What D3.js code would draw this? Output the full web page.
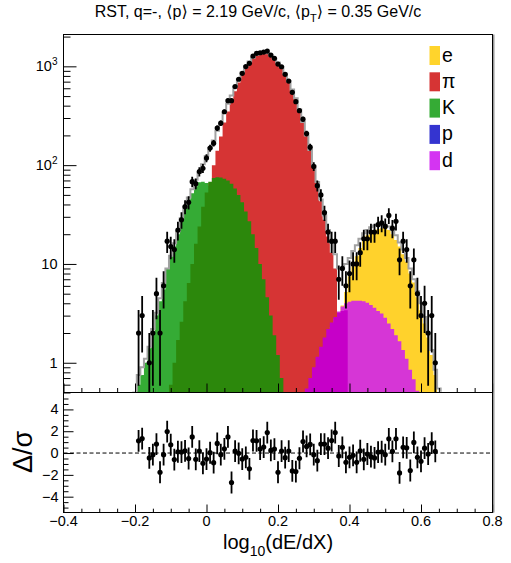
<!DOCTYPE html>
<html><head><meta charset="utf-8">
<script src="https://cdn.jsdelivr.net/npm/d3@7"></script>
<style>
body{margin:0;background:#fff}
svg{display:block}
text{font-family:"Liberation Sans",Arial,"DejaVu Sans",sans-serif;fill:#000}
</style>
</head><body>
<svg id="c" width="511" height="563"></svg>
<script>
// ---------------- data ----------------
const binCenters = [-0.20,-0.19,-0.18,-0.17,-0.16,-0.15,-0.14,-0.13,-0.12,-0.11,
 -0.10,-0.09,-0.08,-0.07,-0.06,-0.05,-0.04,-0.03,-0.02,-0.01,
 0.00,0.01,0.02,0.03,0.04,0.05,0.06,0.07,0.08,0.09,
 0.10,0.11,0.12,0.13,0.14,0.15,0.16,0.17,0.18,0.19,
 0.20,0.21,0.22,0.23,0.24,0.25,0.26,0.27,0.28,0.29,
 0.30,0.31,0.32,0.33,0.34,0.35,0.36,0.37,0.38,0.39,
 0.40,0.41,0.42,0.43,0.44,0.45,0.46,0.47,0.48,0.49,
 0.50,0.51,0.52,0.53,0.54,0.55,0.56,0.57,0.58,0.59,
 0.60,0.61,0.62,0.63,0.64,0.65];

const piCounts = [0,0,0,0,0,0,0,0,0,0,
 0.1,0.2,0.5,1.0,1.8,3.3,5.7,9.7,16,26,
 42,66,100,140,195,270,350,445,560,685,
 815,950,1080,1195,1285,1345,1368,1352,1290,1195,
 1090,985,840,705,585,470,362,272,198,140,
 96,66,43,28,19,13,9,0,0,0,
 0,0,0,0,0,0,0,0,0,0,
 0,0,0,0,0,0,0,0,0,0,
 0,0,0,0,0,0];

const kaonCountsA = [0.4,0.6,0.75,1.0,1.4,2.0,3.0,4.2,5.5,9,
 12,15,20,28,36,45,52,61,67,68,
 66,62,56,49,41,33,26,19,13,9,
 6,3.8,2.3,1.3,0.7,0.4,0.2,0,0,0,
 0,0,0,0,0,0,0,0,0,0,
 0,0,0,0,0,0,0,0,0,0,
 0,0,0,0,0,0,0,0,0,0,
 0,0,0,0,0,0,0,0,0,0,
 0,0,0,0,0,0];

const kaonCountsB = [0,0,0,0,0,0,0,0,0.1,0.3,
 0.6,1.0,1.7,2.6,4.2,6.4,10,16,24,38,
 53,68,74,75.5,75,73,70,65,58,50,
 42,34,27,20,14.5,10,7,4.6,3.0,1.9,
 1.2,0.7,0.4,0.2,0,0,0,0,0,0,
 0,0,0,0,0,0,0,0,0,0,
 0,0,0,0,0,0,0,0,0,0,
 0,0,0,0,0,0,0,0,0,0,
 0,0,0,0,0,0];

const electronCounts = [0,0,0,0,0,0,0,0,0,0,
 0,0,0,0,0,0,0,0,0,0,
 0,0,0,0,0,0,0,0,0,0,
 0,0,0,0,0,0,0,0,0,0,
 0,0,0,0,0,0,0,0,0,0,
 0.2,0.3,0.4,0.6,0.9,1.4,2.0,2.8,3.8,5.2,
 7.5,9.5,12,14.5,17.5,19.5,21,22,22.5,23,
 23,22,20,17.5,15,12.5,10.5,8,6.5,4.6,
 3.4,2.5,1.8,1.2,0.75,0.4];

const protonCounts = [0,0,0,0,0,0,0,0,0,0,
 0,0,0,0,0,0,0,0,0,0,
 0,0,0,0,0,0,0,0,0,0,
 0,0,0,0,0,0,0,0,0,0,
 0,0,0,0,0,0,0,0,0,0,
 0,0,0,0,0,0,0,0,0,0,
 0,0,0,0,0,0,0,0,0,0,
 0,0,0,0,0,0,0,0,0,0,
 0,0,0,0,0,0];

const deuteronCountsA = [0,0,0,0,0,0,0,0,0,0,
 0,0,0,0,0,0,0,0,0,0,
 0,0,0,0,0,0,0,0,0,0,
 0,0,0,0,0,0,0,0,0,0,
 0,0,0,0,0,0,0,0,0,0,
 0.4,0.55,0.8,1.2,1.7,2.3,2.8,3.3,3.7,4.0,
 4.15,4.25,4.25,4.25,4.2,4.05,3.85,3.6,3.35,3.15,
 2.85,2.5,2.2,1.9,1.65,1.35,1.1,0.85,0.68,0.52,
 0.4,0.3,0.2,0.1,0,0];

const deuteronCountsB = [0,0,0,0,0,0,0,0,0,0,
 0,0,0,0,0,0,0,0,0,0,
 0,0,0,0,0,0,0,0,0,0,
 0,0,0,0,0,0,0,0,0,0,
 0,0,0,0,0,0,0,0.45,0.55,0.7,
 0.9,1.15,1.45,1.8,2.2,2.55,2.9,3.2,3.35,3.4,
 0,0,0,0,0,0,0,0,0,0,
 0,0,0,0,0,0,0,0,0,0,
 0,0,0,0,0,0];

const fitTotal = [0.45,0.75,0.9,1.1,1.45,2.2,3.2,4.5,6.4,9,
 12.1,16.2,21.4,29,38,47,57,71,84,102,
 124,149,178,223,268,340,418,506,620,741,
 866,1002,1119,1229,1312,1359,1374,1357,1291,1192,
 1095,984,842,705,584,475,365,274,200,142,
 98.5,67.5,45,31,22,16.5,12.5,9,9,10,
 11.5,13.5,15.5,18,20.5,22,23.5,24.5,25,25.3,
 25,24,22,19.5,16.5,14,11.5,9,7,5.3,
 4,2.9,2.0,1.35,0.85,0.55];

const dataX = [-0.19,-0.18,-0.16,-0.15,-0.14,-0.13,-0.12,-0.11,-0.10,-0.09,
 -0.08,-0.07,-0.06,-0.05,-0.04,-0.03,-0.02,-0.01,0.00,0.01,
 0.02,0.03,0.04,0.05,0.06,0.07,0.08,0.09,0.10,0.11,
 0.12,0.13,0.14,0.15,0.16,0.17,0.18,0.19,0.20,0.21,
 0.22,0.23,0.24,0.25,0.26,0.27,0.28,0.29,0.30,0.31,
 0.32,0.33,0.34,0.35,0.36,0.37,0.38,0.39,0.40,0.41,
 0.42,0.43,0.44,0.45,0.46,0.47,0.48,0.49,0.50,0.51,
 0.52,0.53,0.54,0.55,0.56,0.57,0.58,0.59,0.60,0.61,
 0.62,0.63,0.64];

const dataCounts = [2,3,1,2,5,2,6,17,15,14,
 22,28,38,42,68,65,86,93,118,149,
 167,237,266,347,449,449,624,740,850,995,
 1072,1270,1353,1372,1395,1428,1300,1205,1055,990,
 830,710,546,439,356,292,209,152,97,62,
 50,33,21,17,17,7,9,6,8,10,
 10,13,18,18,21,21,25,26,24,31,
 23,27,11,17,14,6,11,5,3,4,
 2,3,1];

const residuals = [1.12,1.33,-0.45,-0.15,0.82,-1.76,-0.15,1.97,0.76,-0.6,
 0.12,0.09,0.2,-0.5,1.48,-0.58,0.18,-0.94,-0.55,0.03,
 -0.88,0.88,-0.15,0.39,1.48,-2.7,0.18,-0.03,-0.55,-0.39,
 -1.45,1.15,1.12,0.36,0.55,1.88,0.24,0.36,-1.76,0.18,
 -0.42,0.18,-1.64,-1.7,-0.48,1.06,0.61,0.79,-0.15,-0.7,
 0.82,0.82,0.45,1.15,1.88,-0.27,0.52,-0.85,-0.39,-0.21,
 -0.85,0.21,-0.58,-0.09,-0.33,-0.45,0.09,0.12,-0.15,1.3,
 0.15,1.3,-1.82,0.52,0.48,-1.6,0.97,-0.39,-0.76,0.45,
 -0.09,0.91,0.15];

const legendLabels = ["e","π","K","p","d"];
const xTickValues = [-0.4,-0.2,0,0.2,0.4,0.6,0.8];
const xTickLabels = ["−0.4","−0.2","0","0.2","0.4","0.6","0.8"];
const yTickValues = [1,10,100,1000];
const resTickValues = [-4,-2,0,2,4];
const resTickLabels = ["−4","−2","0","2","4"];

// ---------------- styles ----------------
const colors = {
  pi:"#d63434", kA:"#35ab35", kB:"#2c880c", e:"#ffd22c", p:"#3434d0",
  dA:"#d636d6", dB:"#c600c8", fit:"#a2a2a2"
};
const legendColors = ["#ffd42c","#d63434","#35ab35","#3434d0","#d434f2"];

// ---------------- layout ----------------
const W=511,H=563;
const xL=63.5,xR=492.5,topY=34.5,midY=392.5,botY=512.5;
const HALF=0.005;
const svg=d3.select("#c");
svg.append("rect").attr("width",W).attr("height",H).attr("fill","#fff");

const x=d3.scaleLinear().domain([-0.4,0.8]).range([xL,xR]);
const y=d3.scaleLog().domain([0.5,2100]).range([midY,topY]).clamp(true);
const yr=d3.scaleLinear().domain([-5.45,5.55]).range([botY,midY]);

const defs=svg.append("defs");
defs.append("clipPath").attr("id","clipTop").append("rect")
  .attr("x",xL).attr("y",topY).attr("width",xR-xL).attr("height",midY-topY);
defs.append("clipPath").attr("id","clipTopLine").append("rect")
  .attr("x",xL).attr("y",topY).attr("width",xR-xL).attr("height",midY-topY-0.8);
defs.append("clipPath").attr("id","clipBot").append("rect")
  .attr("x",xL).attr("y",midY).attr("width",xR-xL).attr("height",botY-midY);

const yv=v=>(v>0?y(v):midY);

function stepArea(vals){
  let d="";
  binCenters.forEach((c,i)=>{
    const x0=x(c-HALF),x1=x(c+HALF),yy=yv(vals[i]);
    if(i===0) d+=`M${x0},${midY}`;
    d+=`L${x0},${yy}L${x1},${yy}`;
  });
  d+=`L${x(binCenters[binCenters.length-1]+HALF)},${midY}Z`;
  return d;
}
function stepLine(vals){
  let d="";
  binCenters.forEach((c,i)=>{
    const x0=x(c-HALF),x1=x(c+HALF),yy=yv(vals[i]);
    if(i===0) d+=`M${x0},${midY+2}`;
    d+=`L${x0},${yy}L${x1},${yy}`;
  });
  d+=`L${x(binCenters[binCenters.length-1]+HALF)},${midY+2}`;
  return d;
}

const gTop=svg.append("g").attr("clip-path","url(#clipTop)");
[[piCounts,colors.pi],[kaonCountsA,colors.kA],[kaonCountsB,colors.kB],
 [electronCounts,colors.e],[deuteronCountsA,colors.dA],[deuteronCountsB,colors.dB],
 [protonCounts,colors.p]].forEach(([vals,col])=>{
  gTop.append("path").attr("d",stepArea(vals)).attr("fill",col).attr("stroke","none");
});
svg.append("g").attr("clip-path","url(#clipTopLine)")
  .append("path").attr("d",stepLine(fitTotal)).attr("fill","none")
  .attr("stroke",colors.fit).attr("stroke-width",2);

// data points
const pts=dataX.map((c,i)=>({c,n:dataCounts[i],r:residuals[i]}));
const gData=svg.append("g").attr("clip-path","url(#clipTop)");
gData.selectAll("line.eb").data(pts).join("line").attr("class","eb")
  .attr("x1",d=>x(d.c)).attr("x2",d=>x(d.c))
  .attr("y1",d=>{const lo=d.n-Math.sqrt(d.n);return lo>0?y(lo):midY+5;})
  .attr("y2",d=>y(d.n+Math.sqrt(d.n)))
  .attr("stroke","#000").attr("stroke-width",1.8);
gData.selectAll("circle").data(pts).join("circle")
  .attr("cx",d=>x(d.c)).attr("cy",d=>y(d.n)).attr("r",2.6).attr("fill","#000");

// residual panel
const gRes=svg.append("g").attr("clip-path","url(#clipBot)");
gRes.append("line").attr("x1",xL).attr("x2",xR).attr("y1",yr(0)).attr("y2",yr(0))
  .attr("stroke","#000").attr("stroke-width",1).attr("stroke-dasharray","4,2.5");
gRes.selectAll("line.eb").data(pts).join("line").attr("class","eb")
  .attr("x1",d=>x(d.c)).attr("x2",d=>x(d.c))
  .attr("y1",d=>yr(d.r-1)).attr("y2",d=>yr(d.r+1))
  .attr("stroke","#000").attr("stroke-width",1.8);
gRes.selectAll("circle").data(pts).join("circle")
  .attr("cx",d=>x(d.c)).attr("cy",d=>yr(d.r)).attr("r",2.6).attr("fill","#000");

// ---------------- axes ----------------
function ticks(g){g.select(".domain").remove();g.selectAll("line").attr("stroke","#000");}
const xMinor=d3.range(-0.4,0.8001,0.05).filter(v=>Math.abs(Math.round(v*5)-v*5)>1e-6);
svg.append("g").attr("transform",`translate(0,${midY})`)
  .call(d3.axisBottom(x).tickValues(xTickValues).tickSize(-9).tickFormat("")).call(ticks);
svg.append("g").attr("transform",`translate(0,${midY})`)
  .call(d3.axisBottom(x).tickValues(xMinor).tickSize(-4.5).tickFormat("")).call(ticks);
svg.append("g").attr("transform",`translate(0,${botY})`)
  .call(d3.axisBottom(x).tickValues(xTickValues).tickSize(-8).tickFormat("")).call(ticks);
svg.append("g").attr("transform",`translate(0,${botY})`)
  .call(d3.axisBottom(x).tickValues(xMinor).tickSize(-3.8).tickFormat("")).call(ticks);
svg.selectAll("g.tick text").remove();
svg.append("g").selectAll("text").data(xTickValues).join("text")
  .attr("x",v=>x(v)).attr("y",botY+13.5).attr("text-anchor","middle")
  .attr("font-size",14.5).text((v,i)=>xTickLabels[i]);

const yMinor=[];
[0.1,1,10,100,1000].forEach(dec=>{for(let k=2;k<=9;k++){const v=dec*k;if(v>=0.5&&v<=2100)yMinor.push(v);}});
svg.append("g").attr("transform",`translate(${xL},0)`)
  .call(d3.axisLeft(y).tickValues(yTickValues).tickSize(-13).tickFormat("")).call(ticks);
svg.append("g").attr("transform",`translate(${xL},0)`)
  .call(d3.axisLeft(y).tickValues(yMinor).tickSize(-7).tickFormat("")).call(ticks);
svg.selectAll("g.tick text").remove();
const yl=svg.append("g");
yTickValues.forEach(v=>{
  const t=yl.append("text").attr("x",xL-6).attr("y",y(v)+5).attr("text-anchor","end").attr("font-size",14.5);
  if(v===1) t.text("1");
  else if(v===10) t.text("10");
  else {
    t.append("tspan").text("10");
    t.append("tspan").attr("dy",-6).attr("font-size",10).text(String(Math.round(Math.log10(v))));
  }
});

const rMinor=d3.range(-5,5.01,0.5).filter(v=>Math.abs(v%2)>1e-6);
svg.append("g").attr("transform",`translate(${xL},0)`)
  .call(d3.axisLeft(yr).tickValues(resTickValues).tickSize(-10).tickFormat("")).call(ticks);
svg.append("g").attr("transform",`translate(${xL},0)`)
  .call(d3.axisLeft(yr).tickValues(rMinor).tickSize(-5).tickFormat("")).call(ticks);
svg.selectAll("g.tick text").remove();
svg.append("g").selectAll("text").data(resTickValues).join("text")
  .attr("x",xL-5).attr("y",v=>yr(v)+5).attr("text-anchor","end").attr("font-size",14.5)
  .text((v,i)=>resTickLabels[i]);

// frames
svg.append("rect").attr("x",xL).attr("y",topY).attr("width",xR-xL).attr("height",midY-topY)
  .attr("fill","none").attr("stroke","#000").attr("stroke-width",1);
svg.append("rect").attr("x",xL).attr("y",midY).attr("width",xR-xL).attr("height",botY-midY)
  .attr("fill","none").attr("stroke","#000").attr("stroke-width",1);
svg.append("line").attr("x1",xR+1.3).attr("x2",xR+1.3).attr("y1",topY).attr("y2",botY)
  .attr("stroke","#888").attr("stroke-width",1.3);

// titles
const tt=svg.append("text").attr("x",258).attr("y",17).attr("text-anchor","middle").attr("font-size",16);
tt.append("tspan").text("RST, q=-, ⟨p⟩ = 2.19 GeV/c, ⟨p");
tt.append("tspan").attr("dy",5).attr("font-size",11).text("T");
tt.append("tspan").attr("dy",-5).text("⟩ = 0.35 GeV/c");

const xt=svg.append("text").attr("x",278).attr("y",549).attr("text-anchor","middle").attr("font-size",20);
xt.append("tspan").text("log");
xt.append("tspan").attr("dy",7).attr("font-size",14).text("10");
xt.append("tspan").attr("dy",-7).text("(dE/dX)");

svg.append("text").attr("transform","translate(32,452) rotate(-90)")
  .attr("text-anchor","middle").attr("font-size",27).text("Δ/σ");

// legend
const lg=svg.append("g");
legendLabels.forEach((lab,i)=>{
  const yy=46+i*26.3;
  lg.append("rect").attr("x",429.5).attr("y",yy).attr("width",10.5).attr("height",19)
    .attr("fill",legendColors[i]);
  lg.append("text").attr("x",442).attr("y",yy+15.5).attr("font-size",19.5).text(lab);
});
</script>
</body></html>
